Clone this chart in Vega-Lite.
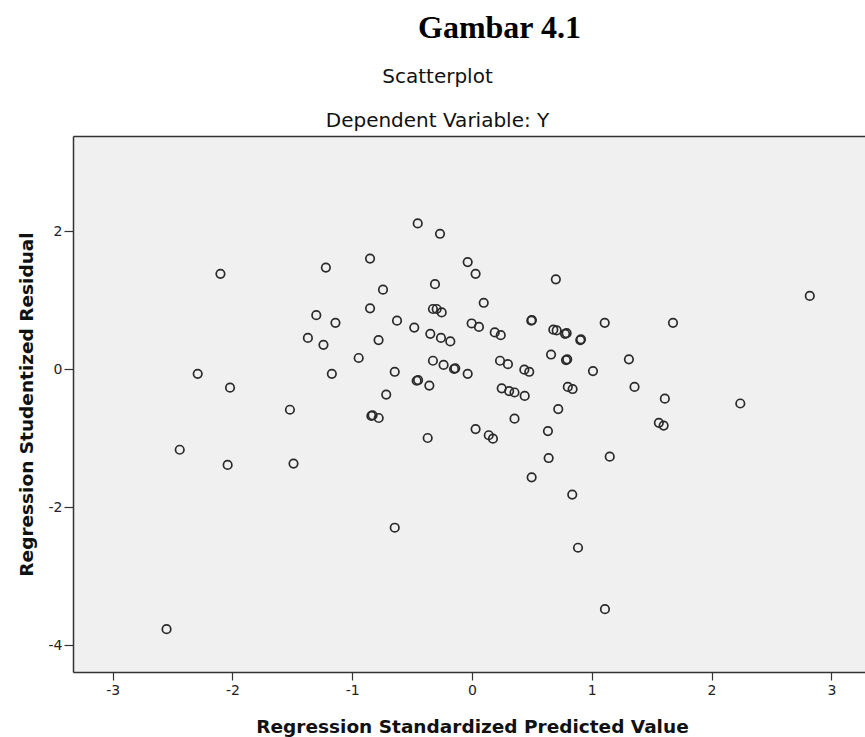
{
  "$schema": "https://vega.github.io/schema/vega-lite/v6.json",
  "autosize": {"type": "none"},
  "padding": {"left": 73, "top": 136, "right": 0, "bottom": 65},
  "width": 792,
  "height": 536,
  "background": "white",
  "title": {
    "text": "Gambar 4.1",
    "font": "Liberation Serif",
    "fontWeight": "bold",
    "fontSize": 32,
    "color": "black",
    "anchor": "start",
    "frame": "group",
    "dx": 345,
    "dy": -21,
    "offset": 0
  },
  "data": {
    "values": [
      {"x": -2.55, "y": -3.77}, {"x": -2.44, "y": -1.17}, {"x": -2.10, "y": 1.38}, {"x": -2.29, "y": -0.07},
      {"x": -2.02, "y": -0.27}, {"x": -2.04, "y": -1.39}, {"x": -1.52, "y": -0.59}, {"x": -1.49, "y": -1.37},
      {"x": -1.22, "y": 1.47}, {"x": -1.30, "y": 0.78}, {"x": -1.14, "y": 0.67}, {"x": -1.37, "y": 0.45},
      {"x": -1.24, "y": 0.35}, {"x": -1.17, "y": -0.07}, {"x": -0.453, "y": 2.11}, {"x": -0.267, "y": 1.96},
      {"x": -0.851, "y": 1.60}, {"x": -0.036, "y": 1.55}, {"x": 0.03, "y": 1.38}, {"x": -0.743, "y": 1.15},
      {"x": -0.309, "y": 1.23}, {"x": -0.851, "y": 0.88}, {"x": -0.326, "y": 0.87}, {"x": -0.295, "y": 0.87},
      {"x": -0.253, "y": 0.82}, {"x": 0.098, "y": 0.96}, {"x": -0.626, "y": 0.70}, {"x": -0.482, "y": 0.60},
      {"x": -0.348, "y": 0.51}, {"x": -0.259, "y": 0.45}, {"x": -0.181, "y": 0.40}, {"x": -0.003, "y": 0.66},
      {"x": 0.058, "y": 0.61}, {"x": 0.19, "y": 0.53}, {"x": 0.24, "y": 0.49}, {"x": -0.78, "y": 0.42},
      {"x": -0.946, "y": 0.16}, {"x": -0.326, "y": 0.12}, {"x": -0.237, "y": 0.06}, {"x": -0.15, "y": 0.0},
      {"x": -0.14, "y": 0.01}, {"x": -0.036, "y": -0.07}, {"x": 0.234, "y": 0.12}, {"x": 0.30, "y": 0.07},
      {"x": -0.645, "y": -0.04}, {"x": -0.462, "y": -0.17}, {"x": -0.45, "y": -0.16}, {"x": -0.356, "y": -0.24},
      {"x": 0.248, "y": -0.28}, {"x": 0.31, "y": -0.32}, {"x": 0.355, "y": -0.34}, {"x": -0.716, "y": -0.37},
      {"x": -0.84, "y": -0.68}, {"x": -0.83, "y": -0.67}, {"x": -0.779, "y": -0.71}, {"x": 0.355, "y": -0.72},
      {"x": -0.37, "y": -1.0}, {"x": 0.03, "y": -0.87}, {"x": 0.14, "y": -0.96}, {"x": 0.175, "y": -1.01},
      {"x": 0.70, "y": 1.30}, {"x": 0.495, "y": 0.70}, {"x": 0.50, "y": 0.71}, {"x": 1.108, "y": 0.67},
      {"x": 1.678, "y": 0.67}, {"x": 0.679, "y": 0.57}, {"x": 0.707, "y": 0.56}, {"x": 0.777, "y": 0.51},
      {"x": 0.79, "y": 0.52}, {"x": 0.904, "y": 0.42}, {"x": 0.91, "y": 0.43}, {"x": 0.66, "y": 0.21},
      {"x": 0.785, "y": 0.13}, {"x": 0.795, "y": 0.14}, {"x": 1.01, "y": -0.03}, {"x": 1.31, "y": 0.14},
      {"x": 0.437, "y": -0.01}, {"x": 0.478, "y": -0.04}, {"x": 0.80, "y": -0.26}, {"x": 0.84, "y": -0.29},
      {"x": 1.357, "y": -0.26}, {"x": 1.61, "y": -0.43}, {"x": 1.56, "y": -0.78}, {"x": 1.60, "y": -0.82},
      {"x": 0.72, "y": -0.58}, {"x": 0.634, "y": -0.90}, {"x": 0.64, "y": -1.29}, {"x": 0.498, "y": -1.57},
      {"x": 0.837, "y": -1.82}, {"x": -0.645, "y": -2.30}, {"x": 0.885, "y": -2.59}, {"x": 1.15, "y": -1.27},
      {"x": 1.11, "y": -3.48}, {"x": 2.82, "y": 1.06}, {"x": 2.24, "y": -0.50}, {"x": 0.44, "y": -0.39}
    ]
  },
  "resolve": {"axis": {"x": "independent"}},
  "layer": [
    {
      "mark": {"type": "point", "shape": "circle", "filled": false, "stroke": "#2a2a2a", "strokeWidth": 1.7, "size": 72, "opacity": 1},
      "encoding": {
        "x": {
          "field": "x", "type": "quantitative",
          "scale": {"domain": [-3.331, 3.281], "nice": false, "zero": false},
          "axis": {
            "orient": "bottom",
            "values": [-3, -2, -1, 0, 1, 2, 3],
            "labelExpr": "datum.value + ''",
            "grid": false,
            "domain": true, "domainColor": "#333333", "domainWidth": 1.5,
            "ticks": true, "tickSize": 8, "tickColor": "#333333", "tickWidth": 1.2,
            "labelFont": "DejaVu Sans", "labelFontSize": 14, "labelColor": "#222222", "labelPadding": 3,
            "title": "Regression Standardized Predicted Value",
            "titleFont": "DejaVu Sans", "titleFontWeight": "bold", "titleFontSize": 18.5, "titleColor": "#111111",
            "titleX": 399, "titleY": 60, "titleBaseline": "alphabetic", "titleAlign": "center"
          }
        },
        "y": {
          "field": "y", "type": "quantitative",
          "scale": {"domain": [-4.391, 3.377], "nice": false, "zero": false},
          "axis": {
            "orient": "left",
            "values": [-4, -2, 0, 2],
            "labelExpr": "datum.value + ''",
            "grid": false,
            "domain": true, "domainColor": "#333333", "domainWidth": 1.5,
            "ticks": true, "tickSize": 9, "tickColor": "#333333", "tickWidth": 1.2,
            "labelFont": "DejaVu Sans", "labelFontSize": 14, "labelColor": "#222222", "labelPadding": 2,
            "title": "Regression Studentized Residual",
            "titleFont": "DejaVu Sans", "titleFontWeight": "bold", "titleFontSize": 18.5, "titleColor": "#111111",
            "titleX": -41, "titleY": 268, "titleAngle": -90, "titleBaseline": "alphabetic", "titleAlign": "center"
          }
        }
      }
    },
    {
      "mark": {"type": "point", "shape": "circle", "opacity": 0},
      "encoding": {
        "x": {
          "field": "x", "type": "quantitative",
          "axis": {
            "orient": "top",
            "labels": false, "ticks": false, "grid": false,
            "domain": true, "domainColor": "#333333", "domainWidth": 1.5,
            "title": ["Scatterplot", "Dependent Variable: Y"],
            "titleFont": "DejaVu Sans", "titleFontWeight": "normal", "titleFontSize": 20, "titleColor": "#111111",
            "titleX": 364, "titleY": -54, "titleBaseline": "alphabetic", "titleAlign": "center", "titleLineHeight": 44
          }
        },
        "y": {"field": "y", "type": "quantitative"}
      }
    }
  ],
  "config": {
    "view": {"fill": "#f0f0f0", "stroke": null}
  }
}
